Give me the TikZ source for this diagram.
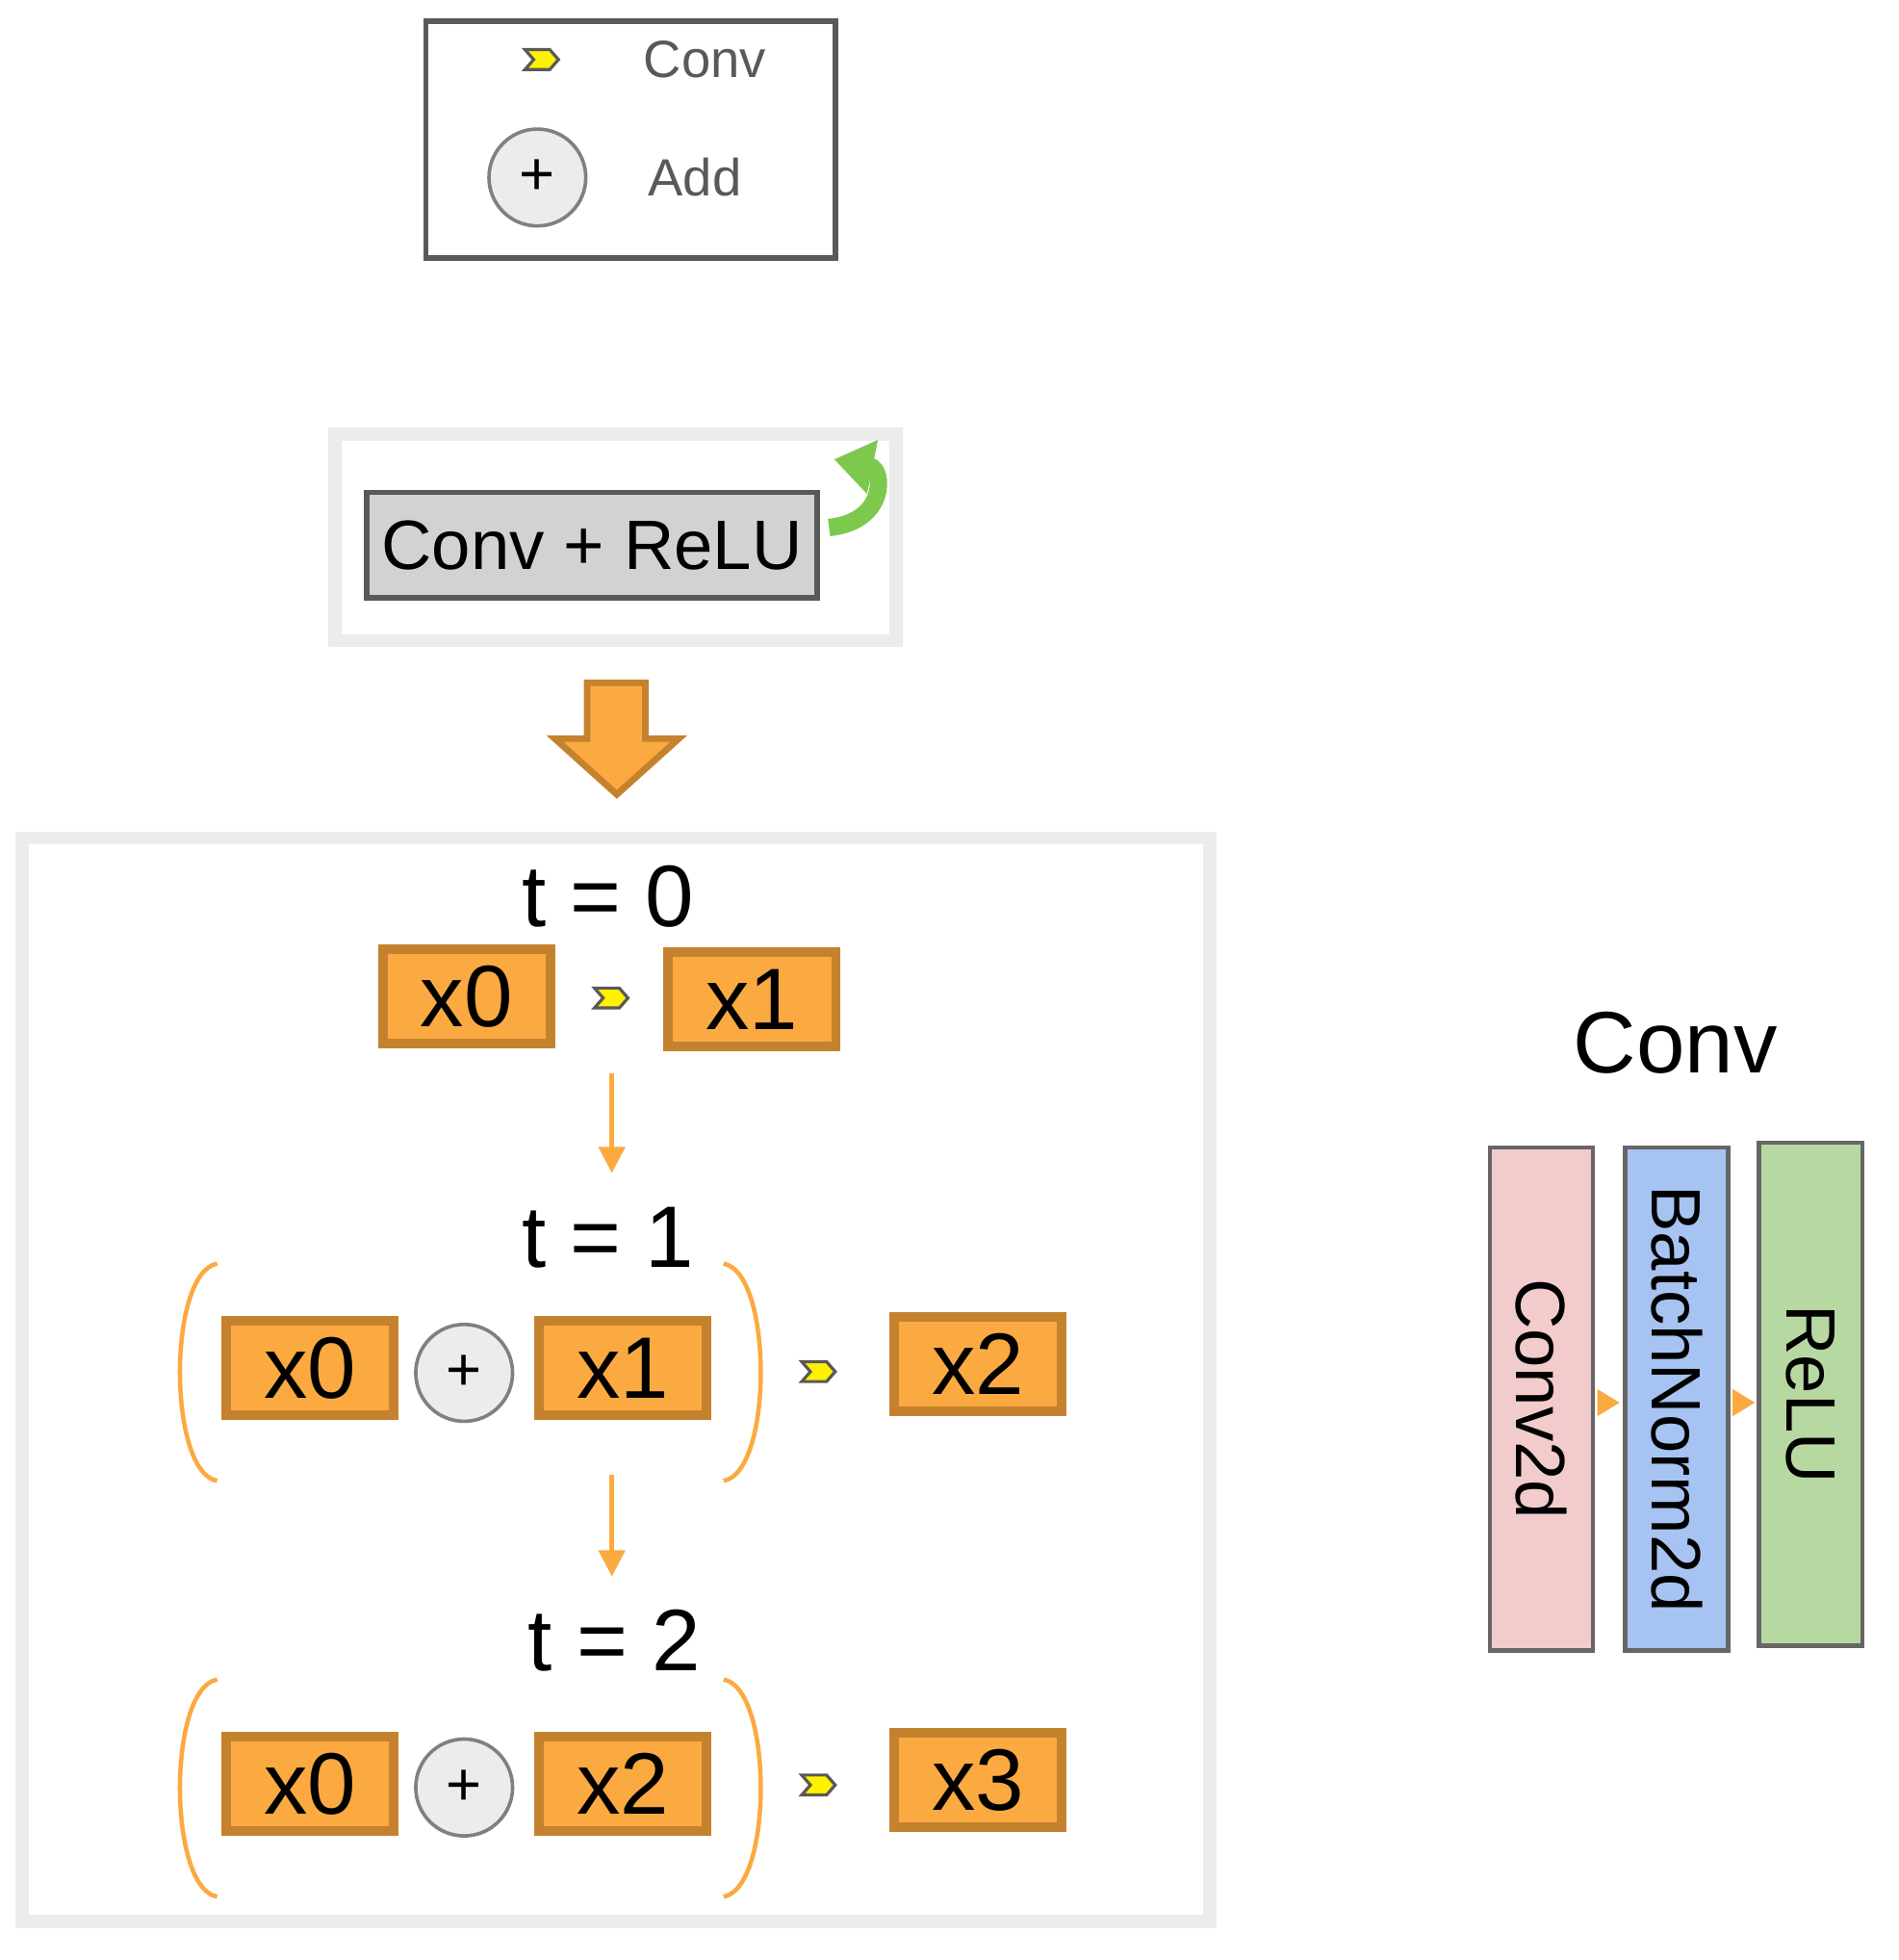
\documentclass[tikz,border=0pt]{standalone}
\usepackage{fontspec}
\setmainfont{Liberation Sans}
\usetikzlibrary{positioning,arrows.meta,calc}
\definecolor{xorange}{HTML}{FBAA41}
\definecolor{xborder}{HTML}{C5822E}
\definecolor{pinkc}{HTML}{F2CCCC}
\definecolor{bluec}{HTML}{A6C3F1}
\definecolor{greenc}{HTML}{B8D8A2}
\definecolor{loopc}{HTML}{7DC94E}

\begin{document}
\begin{tikzpicture}[
  x=0.01cm, y=-0.01cm,
  xbox/.style={rectangle, draw=xborder, fill=xorange, line width=2.2pt, minimum width=1.35cm, minimum height=0.76cm, font=\fontsize{20}{22}\selectfont},
  addc/.style={circle, draw=gray, fill=gray!15, line width=0.8pt, minimum size=0.78cm, font=\fontsize{14}{16}\selectfont},
  tlab/.style={font=\fontsize{20}{22}\selectfont},
  layer/.style={rectangle, draw=gray!80!black, line width=1pt, minimum width=0.83cm, minimum height=4.05cm},
  flow/.style={-{Triangle[length=6pt,width=6pt]}, draw=xorange, line width=1pt},
  conv/.pic={\draw[draw=gray!70!black, fill=yellow, line width=0.7pt]
    (-14,-8) -- (6,-8) -- (13,0) -- (6,8) -- (-14,8) -- (-7,0) -- cycle;}
]
\useasboundingbox (0,0) rectangle (1530,1579);

% Legend
\draw[gray!70!black, line width=1.2pt] (343,17) rectangle (673,208);
\pic at (437,48) {conv};
\node[text=gray!70!black, font=\fontsize{12}{14}\selectfont] (lconv) at (568,48) {Conv};
\node[addc] (ladd) at (433,143) {+};
\node[text=gray!70!black, font=\fontsize{12}{14}\selectfont] (laddt) at (560,143) {Add};

% Block
\draw[gray!15, line width=3pt] (270,350) rectangle (722,516);
\node[rectangle, draw=gray!70!black, fill=gray!35, line width=1.2pt, minimum width=3.39cm, minimum height=0.85cm, font=\fontsize{16}{18}\selectfont] (block) at (477,439) {Conv + ReLU};
\draw[loopc, line width=4pt, -{Triangle[length=9pt,width=12pt]}] (668,425) .. controls (715,420) and (712,378) .. (672,370);

% Unroll arrow
\draw[xborder, fill=xorange, line width=1.5pt] (473,550) -- (520,550) -- (520,595) -- (547,595) -- (497,640) -- (447,595) -- (473,595) -- cycle;

% Unrolled steps
\draw[gray!15, line width=3pt] (18,675) rectangle (975,1548);

\node[tlab] (t0) at (490,722) {t = 0};
\node[xbox] (a0) at (376,803) {x0};
\pic at (493,804) {conv};
\node[xbox] (a1) at (606,805) {x1};

\coordinate (s0) at (493,865);
\coordinate (e0) at (493,945);
\draw[flow] (s0) -- (e0);

\node[tlab] (t1) at (490,997) {t = 1};
\draw[xorange, line width=1pt] (175,1018) .. controls (135,1025) and (135,1186) .. (175,1193);
\draw[xorange, line width=1pt] (583,1018) .. controls (623,1025) and (623,1186) .. (583,1193);
\node[xbox] (b0) at (250,1102) {x0};
\node[addc] (b1) at (374,1106) {+};
\node[xbox] (b2) at (502,1102) {x1};
\pic at (660,1105) {conv};
\node[xbox] (b3) at (788,1099) {x2};

\coordinate (s1) at (493,1188);
\coordinate (e1) at (493,1270);
\draw[flow] (s1) -- (e1);

\node[tlab] (t2) at (495,1322) {t = 2};
\draw[xorange, line width=1pt] (175,1353) .. controls (135,1360) and (135,1521) .. (175,1528);
\draw[xorange, line width=1pt] (583,1353) .. controls (623,1360) and (623,1521) .. (583,1528);
\node[xbox] (c0) at (250,1437) {x0};
\node[addc] (c1) at (374,1440) {+};
\node[xbox] (c2) at (502,1437) {x2};
\pic at (660,1438) {conv};
\node[xbox] (c3) at (788,1434) {x3};

% Conv layers
\node[tlab] (convt) at (1350,840) {Conv};
\node[layer, fill=pinkc] (l1) at (1242,1127) {};
\node[layer, fill=bluec] (l2) at (1351,1127) {};
\node[layer, fill=greenc] (l3) at (1459,1123) {};
\node[rotate=-90, font=\fontsize{16}{18}\selectfont] at (l1) {Conv2d};
\node[rotate=-90, font=\fontsize{16}{18}\selectfont] at (l2) {BatchNorm2d};
\node[rotate=-90, font=\fontsize{16}{18}\selectfont] at (l3) {ReLU};
\fill[xorange] (1287,1119) -- (1305,1130) -- (1287,1141) -- cycle;
\fill[xorange] (1396,1119) -- (1414,1130) -- (1396,1141) -- cycle;

\end{tikzpicture}
\end{document}
